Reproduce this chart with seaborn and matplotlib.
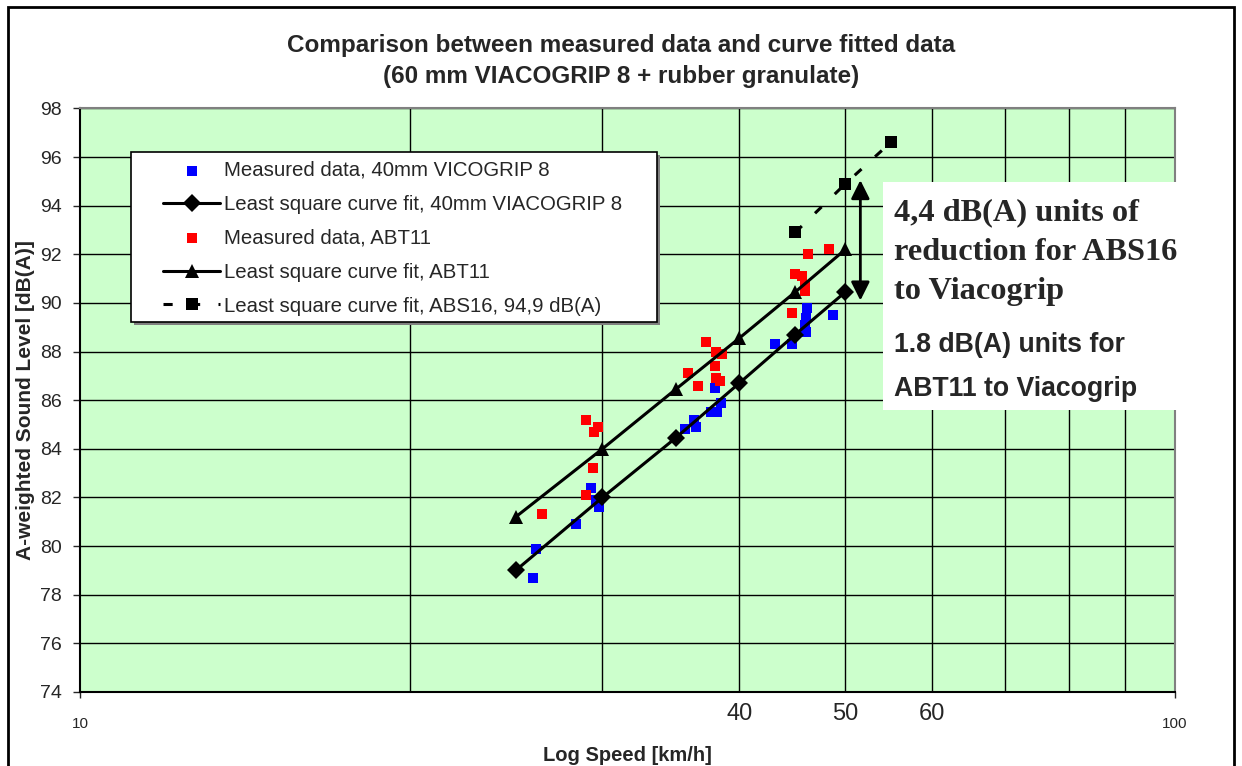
import numpy as np
import pandas as pd
import seaborn as sns
import matplotlib.pyplot as plt
from matplotlib.patches import Rectangle
from matplotlib.ticker import FixedLocator, NullFormatter

# measured data, 40mm VIACOGRIP 8 (blue squares)
via_speed = [25.9, 26.1, 28.4, 29.3, 29.6, 29.8, 35.7, 36.5, 36.4, 37.7, 38.2,
             38.5, 38.0, 43.1, 44.7, 46.0, 45.9, 46.0, 46.1, 48.7]
via_level = [78.7, 79.9, 80.9, 82.4, 81.9, 81.6, 84.8, 84.9, 85.2, 85.5, 85.5,
             85.9, 86.5, 88.3, 88.3, 88.8, 89.1, 89.4, 89.8, 89.5]

# measured data, ABT11 (red squares)
abt_speed = [26.4, 29.0, 29.0, 29.4, 29.5, 29.7, 35.9, 36.7, 37.3, 38.0, 38.1,
             38.1, 38.4, 38.6, 44.7, 45.0, 45.6, 45.9, 45.9, 46.2, 48.3]
abt_level = [81.3, 82.1, 85.2, 83.2, 84.7, 84.9, 87.1, 86.6, 88.4, 87.4, 88.0,
             86.9, 86.8, 87.9, 89.6, 91.2, 91.1, 90.7, 90.5, 92.0, 92.2]

# least square fits
fit_speed = [25, 30, 35, 40, 45, 50]
via_fit = [79.0, 82.0, 84.45, 86.7, 88.7, 90.45]
abt_fit = [81.2, 84.0, 86.45, 88.55, 90.45, 92.2]
abs_speed = [45, 50, 55]
abs_fit = [92.9, 94.9, 96.6]

y_ticks = list(range(74, 99, 2))
x_major = [10, 100]
x_grid = [20, 30, 40, 50, 60, 70, 80, 90]
x_extra_labels = [40, 50, 60]

sns.set_style("white")
plt.rcParams["font.family"] = ["Liberation Sans", "DejaVu Sans"]

W, H = 1242, 766
fig = plt.figure(figsize=(W / 100, H / 100), dpi=100)
ax = fig.add_axes([80 / W, 1 - 692 / H, 1095 / W, (692 - 108.4) / H])
ax.set_facecolor("#CCFFCC")

sns.scatterplot(x=via_speed, y=via_level, ax=ax, color="#0000FF", marker="s",
                s=56, linewidth=0, label="Measured data, 40mm VICOGRIP 8", zorder=3)
sns.lineplot(x=fit_speed, y=via_fit, ax=ax, color="black", lw=2.2, marker="D",
             markersize=9, markeredgewidth=0,
             label="Least square curve fit, 40mm VIACOGRIP 8", zorder=4)
sns.scatterplot(x=abt_speed, y=abt_level, ax=ax, color="#FF0000", marker="s",
                s=56, linewidth=0, label="Measured data, ABT11", zorder=3)
sns.lineplot(x=fit_speed, y=abt_fit, ax=ax, color="black", lw=2.2, marker="^",
             markersize=10, markeredgewidth=0,
             label="Least square curve fit, ABT11", zorder=4)
sns.lineplot(x=abs_speed, y=abs_fit, ax=ax, color="black", lw=2.2, marker="s",
             markersize=8, markeredgewidth=0, linestyle=(0, (3, 6)),
             label="Least square curve fit, ABS16, 94,9 dB(A)", zorder=4)

ax.set_xscale("log")
ax.set_xlim(10, 100)
ax.set_ylim(74, 98)
ax.set_yticks(y_ticks)
ax.set_xticks(x_major)
ax.set_xticklabels([str(v) for v in x_major])
ax.xaxis.set_minor_locator(FixedLocator(x_grid))
ax.xaxis.set_minor_formatter(NullFormatter())
ax.set_axisbelow(True)
ax.grid(which="minor", axis="x", color="black", lw=1)
ax.grid(which="major", axis="y", color="black", lw=1)
ax.grid(which="major", axis="x", visible=False)
ax.tick_params(axis="x", which="major", direction="out", length=4, width=1,
               pad=14, labelsize=11, bottom=True)
ax.tick_params(axis="x", which="minor", length=0)
ax.tick_params(axis="y", direction="out", length=5, width=1, labelsize=14,
               left=True, pad=8)
for sp in ax.spines.values():
    sp.set_color("#808080")
    sp.set_linewidth(1.5)
ax.spines["left"].set_color("black")
ax.spines["bottom"].set_color("black")

for v in x_extra_labels:
    ax.text(v, -0.037, str(v), transform=ax.get_xaxis_transform(),
            ha="center", va="center", fontsize=17)

ax.set_xlabel("Log Speed [km/h]", fontsize=14.5, fontweight="bold", labelpad=11)
ax.set_ylabel("A-weighted Sound Level [dB(A)]", fontsize=15, fontweight="bold",
              labelpad=4)
fig.text(0.5, 1 - 61 / H,
         "Comparison between measured data and curve fitted data\n"
         "(60 mm VIACOGRIP 8 + rubber granulate)",
         ha="center", va="center", fontsize=17.5, fontweight="bold",
         linespacing=1.48)

# legend with manual frame and shadow
px = lambda x, y: ((x - 80) / 1095, (692 - y) / (692 - 108.4))
ax.add_patch(Rectangle(px(134, 325), 526 / 1095, 170 / 583.6,
                       transform=ax.transAxes, facecolor="#808080",
                       edgecolor="none", zorder=5, clip_on=False))
ax.add_patch(Rectangle(px(131, 322), 526 / 1095, 170 / 583.6,
                       transform=ax.transAxes, facecolor="white",
                       edgecolor="black", lw=1.2, zorder=5, clip_on=False))
leg = ax.legend(loc="upper left", bbox_to_anchor=px(163, 161),
                borderaxespad=0, borderpad=0, fontsize=14.7, frameon=False,
                handlelength=2.8, handletextpad=0.2, labelspacing=0.73)
leg.set_zorder(6)

# double arrow marking reduction at 50 km/h
ax.annotate("", xy=(51.6, 90.1), xytext=(51.6, 95.05),
            arrowprops=dict(arrowstyle="<|-|>", color="black", lw=2,
                            mutation_scale=28, shrinkA=0, shrinkB=0))

# annotation box
box = Rectangle((883 / W, 1 - 410 / H), (1179 - 883) / W, (410 - 182) / H,
                transform=fig.transFigure, facecolor="white", edgecolor="none",
                zorder=7)
fig.patches.append(box)
fig.text(894 / W, 1 - 252 / H, "4,4 dB(A) units of\nreduction for ABS16\nto Viacogrip",
         ha="left", va="center", fontsize=23.3, fontweight="bold",
         family=["Liberation Serif", "DejaVu Serif"], linespacing=1.46, zorder=8)
fig.text(894 / W, 1 - 367 / H, "1.8 dB(A) units for\nABT11 to Viacogrip",
         ha="left", va="center", fontsize=19.2, fontweight="bold",
         linespacing=1.85, zorder=8)

# chart area border
fig.patches.append(Rectangle((8 / W, -0.05), 1226 / W, 1.05 - 7 / H,
                             transform=fig.transFigure, fill=False,
                             edgecolor="black", lw=2))

fig.savefig("out.png", dpi=100)
